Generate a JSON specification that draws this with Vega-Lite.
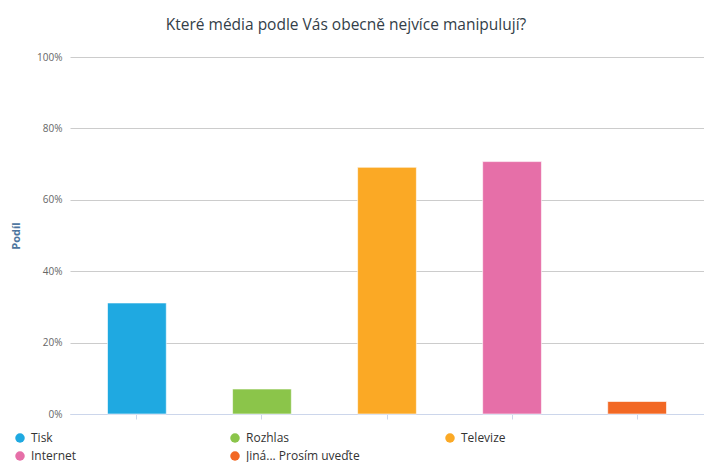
{
  "$schema": "https://vega.github.io/schema/vega-lite/v6.json",
  "autosize": "none",
  "width": 634,
  "height": 357,
  "padding": {"left": 70, "top": 57, "right": 0, "bottom": 48},
  "background": "white",
  "title": {
    "text": "Které média podle Vás obecně nejvíce manipulují?",
    "font": "Open Sans",
    "fontSize": 15.5,
    "fontWeight": "normal",
    "color": "#333e48",
    "anchor": "middle",
    "frame": "group",
    "dx": -41,
    "offset": 19
  },
  "data": {
    "values": [
      {"medium": "Tisk", "podil": 0.311},
      {"medium": "Rozhlas", "podil": 0.07},
      {"medium": "Televize", "podil": 0.691},
      {"medium": "Internet", "podil": 0.707},
      {"medium": "Jiná... Prosím uveďte", "podil": 0.035}
    ]
  },
  "mark": {"type": "bar", "stroke": "white", "strokeOpacity": 0.6, "strokeWidth": 1},
  "encoding": {
    "x": {
      "field": "medium",
      "type": "nominal",
      "sort": null,
      "scale": {"paddingInner": 0.53, "paddingOuter": 0.3},
      "axis": {
        "labels": false,
        "title": null,
        "domainColor": "#ccd6eb",
        "tickColor": "#ccd6eb",
        "tickSize": 5,
        "grid": false
      }
    },
    "y": {
      "field": "podil",
      "type": "quantitative",
      "scale": {"domain": [0, 1]},
      "axis": {
        "title": "Podíl",
        "titleFont": "Open Sans",
        "titleFontSize": 11,
        "titleFontWeight": "bold",
        "titleColor": "#4d759e",
        "titlePadding": 15,
        "format": ".0%",
        "values": [0, 0.2, 0.4, 0.6, 0.8, 1],
        "labelFont": "Open Sans",
        "labelFontSize": 10,
        "labelColor": "#666666",
        "labelPadding": 8,
        "domain": false,
        "ticks": false,
        "gridColor": "#cccccc",
        "gridWidth": 1
      }
    },
    "color": {
      "field": "medium",
      "type": "nominal",
      "sort": null,
      "scale": {
        "domain": ["Tisk", "Rozhlas", "Televize", "Internet", "Jiná... Prosím uveďte"],
        "range": ["#1fa9e1", "#8bc54a", "#fba925", "#e66fa8", "#f26824"]
      },
      "legend": {
        "orient": "none",
        "legendX": -56,
        "legendY": 375,
        "direction": "horizontal",
        "columns": 3,
        "gridAlign": "all",
        "columnPadding": 84,
        "rowPadding": 6,
        "title": null,
        "symbolType": "circle",
        "symbolSize": 90,
        "symbolStrokeWidth": 0,
        "labelFont": "Open Sans",
        "labelFontSize": 12,
        "labelColor": "#333333",
        "labelOffset": 5,
        "labelLimit": 200
      }
    }
  },
  "config": {"view": {"stroke": null}}
}
